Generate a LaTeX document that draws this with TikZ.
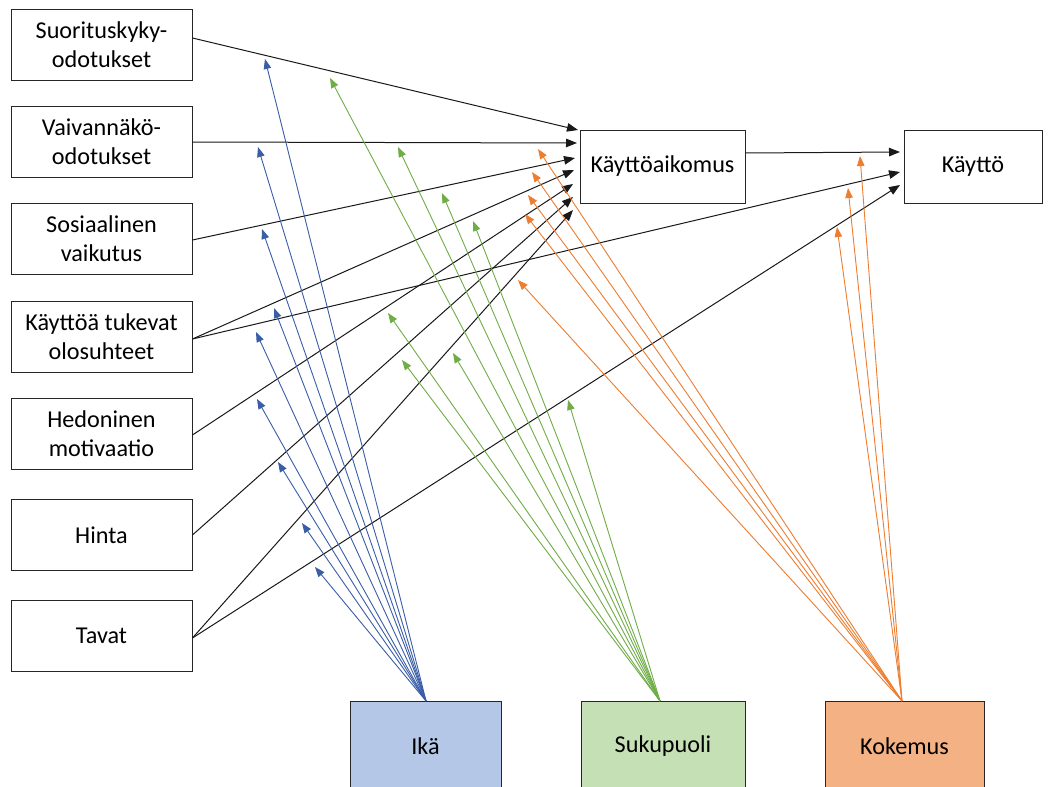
\documentclass[tikz,border=0pt]{standalone}
\usepackage{fontspec}
\setmainfont{Carlito}
\usetikzlibrary{arrows.meta}
\definecolor{blueC}{HTML}{3A5DA8}
\definecolor{greenC}{HTML}{70AD47}
\definecolor{orangeC}{HTML}{ED7D31}
\definecolor{blueF}{HTML}{B4C7E7}
\definecolor{greenF}{HTML}{C5E0B4}
\definecolor{orangeF}{HTML}{F4B183}
\begin{document}
\begin{tikzpicture}[x=1bp,y=-1bp,
  box/.style={draw=black!85, line width=0.9bp, align=center, inner sep=0pt,
    font=\fontsize{24.2bp}{29bp}\selectfont},
  lbox/.style={box, minimum width=181bp, minimum height=71bp},
  arr/.style={draw=black!90, line width=1bp, -{Triangle[length=11bp,width=8.5bp]}},
  mod/.style={line width=0.9bp, -{Triangle[length=10bp,width=7.5bp]}},
  modb/.style={mod, draw=blueC, blueC},
  modg/.style={mod, draw=greenC, greenC},
  modo/.style={mod, draw=orangeC, orangeC}]
\clip (0,0) rectangle (1055,787);
\fill[white] (0,0) rectangle (1055,787);
% left boxes
\node[lbox] (pe) at (101.5,44.5) {Suorituskyky-\\odotukset};
\node[lbox] (ee) at (101.5,142) {Vaivannäkö-\\odotukset};
\node[lbox] (si) at (101.5,239) {Sosiaalinen\\vaikutus};
\node[lbox] (fc) at (101.5,336.5) {Käyttöä tukevat\\olosuhteet};
\node[lbox] (hm) at (101.5,434) {Hedoninen\\motivaatio};
\node[lbox] (pv) at (101.5,535) {Hinta};
\node[lbox] (ht) at (101.5,636) {Tavat};
% right boxes
\node[box, minimum width=165bp, minimum height=73bp] (bi) at (662.5,166.5) {\raisebox{-2bp}{Käyttöaikomus}};
\node[box, minimum width=138bp, minimum height=73bp] (use) at (973,166.5) {\raisebox{-2bp}{Käyttö}};
% moderators
\node[box, fill=blueF, minimum width=151bp, minimum height=90bp] (ika) at (425.5,746) {Ikä};
\node[box, fill=greenF, minimum width=164bp, minimum height=90bp] (suk) at (663,746) {Sukupuoli};
\node[box, fill=orangeF, minimum width=159bp, minimum height=90bp] (kok) at (904.5,746) {Kokemus};
% arrow end coordinates at Käyttöaikomus
\coordinate (b1) at (578,130);
\coordinate (b2) at (577,143);
\coordinate (b3) at (575,158);
\coordinate (b4) at (574,170);
\coordinate (b5) at (573,184);
\coordinate (b6) at (573,197);
\coordinate (b7) at (573,210);
% at Käyttö
\coordinate (u1) at (900,152);
\coordinate (u2) at (900,172);
\coordinate (u3) at (900,185);
% black connectors
\draw[arr] ([yshift=6.5bp]pe.east) -- (b1);
\draw[arr] (ee.east) -- (b2);
\draw[arr] ([yshift=-1bp]si.east) -- (b3);
\draw[arr] ([yshift=-2.5bp]fc.east) -- (b4);
\draw[arr] ([yshift=-2.5bp]fc.east) -- (u2);
\draw[arr] ([yshift=-1bp]hm.east) -- (b5);
\draw[arr] (pv.east) -- (b6);
\draw[arr] ([yshift=-2bp]ht.east) -- (b7);
\draw[arr] ([yshift=-2bp]ht.east) -- (u3);
\draw[arr] ([yshift=13.5bp]bi.east) -- (u1);
% moderator tips
\coordinate (ib1) at (265,59);
\coordinate (ib2) at (258,147);
\coordinate (ib3) at (262,229);
\coordinate (ib4) at (274,308);
\coordinate (ib5) at (256,332);
\coordinate (ib6) at (257,399);
\coordinate (ib7) at (278,462);
\coordinate (ib8) at (302,523);
\coordinate (ib9) at (315,567);
\coordinate (sg1) at (330,78);
\coordinate (sg2) at (398,147);
\coordinate (sg3) at (442,193);
\coordinate (sg4) at (473,221);
\coordinate (sg5) at (388,313);
\coordinate (sg6) at (402,360);
\coordinate (sg7) at (453,353);
\coordinate (sg8) at (568,400);
\coordinate (ko1) at (538,149);
\coordinate (ko2) at (532,172);
\coordinate (ko3) at (528,195);
\coordinate (ko4) at (525,214);
\coordinate (ko5) at (518,280);
\coordinate (ko6) at (860,156);
\coordinate (ko7) at (848,188);
\coordinate (ko8) at (837,227);
\coordinate (io) at (426,701);
\coordinate (so) at (660,701);
\coordinate (ko) at (902,701);
\foreach \i in {1,...,9} \draw[modb] (io) -- (ib\i);
\foreach \i in {1,...,8} \draw[modg] (so) -- (sg\i);
\foreach \i in {1,...,8} \draw[modo] (ko) -- (ko\i);
\end{tikzpicture}
\end{document}
